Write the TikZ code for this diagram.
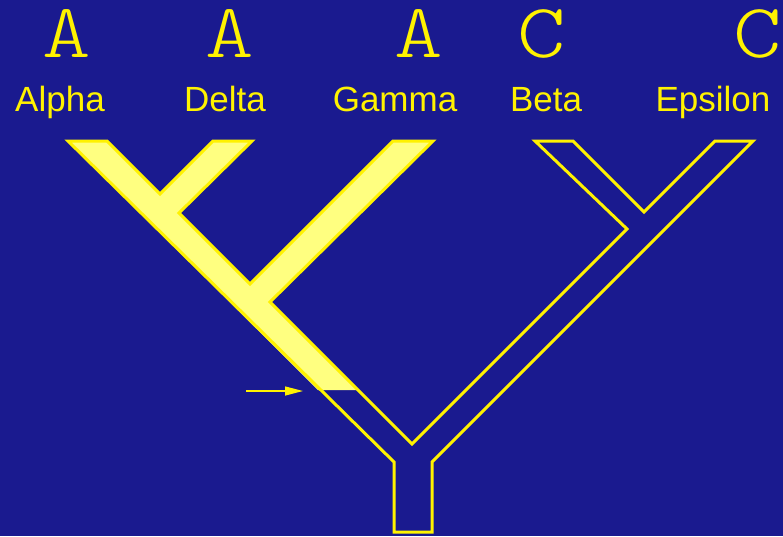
\documentclass[tikz,border=0pt]{standalone}
\usepackage{fontspec}
\usepackage{graphicx}
\setmainfont{Liberation Sans}
\usetikzlibrary{arrows.meta}
\definecolor{slidebg}{RGB}{26,26,143}
\definecolor{cladefill}{RGB}{255,255,128}
\newcommand{\stateglyph}[1]{\scalebox{1.2}[1]{#1}}

\begin{document}
\begin{tikzpicture}[
    x=1pt, y=-1pt,
    >={Triangle[length=18pt,width=9pt]},
    state/.style={inner sep=0pt, anchor=base, text=yellow,
      font=\ttfamily\fontseries{l}\fontsize{77}{77}\selectfont},
    taxon/.style={inner sep=0pt, anchor=base, text=yellow,
      font=\fontsize{35}{35}\selectfont},
    branch/.style={draw=yellow, line width=3pt, line join=miter},
  ]
  %% ---- background ------------------------------------------------------
  \fill[slidebg] (0,0) rectangle (783,536);
  \useasboundingbox (0,0) rectangle (783,536);

  %% ---- character states and taxa ---------------------------------------
  \node[state] (sAlpha)   at (67,57)  {\stateglyph{A}};
  \node[state] (sDelta)   at (230,57) {\stateglyph{A}};
  \node[state] (sGamma)   at (419,57) {\stateglyph{A}};
  \node[state] (sBeta)    at (542,57) {\stateglyph{C}};
  \node[state] (sEpsilon) at (758,57) {\stateglyph{C}};

  \node[taxon] (tAlpha)   at (60,111)  {Alpha};
  \node[taxon] (tDelta)   at (225,111) {Delta};
  \node[taxon] (tGamma)   at (395,111) {Gamma};
  \node[taxon] (tBeta)    at (546,111) {Beta};
  \node[taxon] (tEpsilon) at (713,111) {Epsilon};

  %% ---- the A clade, filled down to the arrow ---------------------------
  \fill[cladefill]
    (68,141) -- (107,141) -- (160,194) -- (213,141) -- (252,141)
    -- (179,213) -- (250,284) -- (393,141) -- (433,141) -- (270,302)
    -- (358,390) -- (318,390) -- cycle;

  %% ---- the whole tree outline ------------------------------------------
  \draw[branch]
    (68,141) -- (107,141) -- (160,194) -- (213,141) -- (252,141)
    -- (179,213) -- (250,284) -- (393,141) -- (433,141) -- (270,302)
    -- (412,444) -- (627,229) -- (535,141) -- (573,141) -- (644,212)
    -- (715,141) -- (753,141) -- (432,462) -- (432,532) -- (394,532)
    -- (394,462) -- cycle;

  %% ---- arrow at the change ---------------------------------------------
  \coordinate (arrTail) at (246,391);
  \coordinate (arrHead) at (303,391);
  \draw[->, yellow, line width=1.3pt] (arrTail) -- (arrHead);
\end{tikzpicture}
\end{document}
